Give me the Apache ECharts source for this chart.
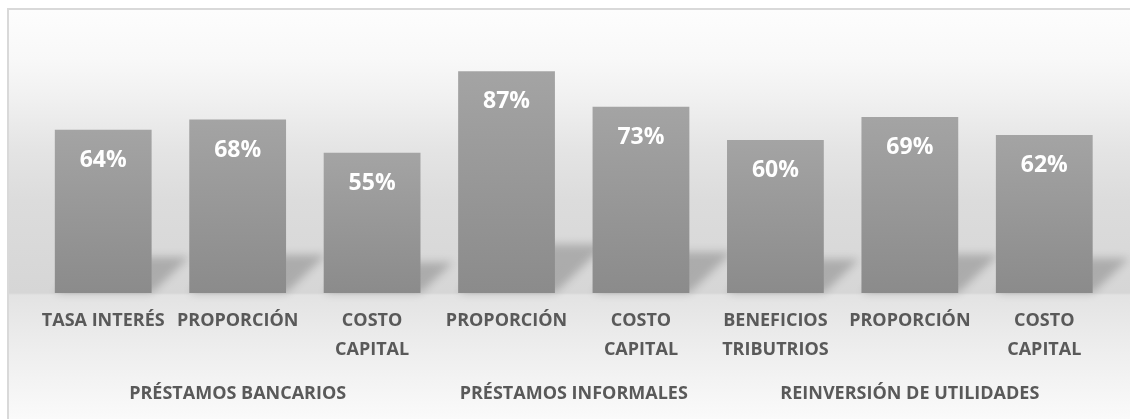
<!DOCTYPE html>
<html><head><meta charset="utf-8">
<script src="https://cdn.jsdelivr.net/npm/echarts@6/dist/echarts.min.js"></script>
<style>
html,body{margin:0;padding:0;width:1130px;height:419px;overflow:hidden;background:#fff;}
#bg{position:absolute;left:7px;top:8px;width:1130px;height:420px;border-left:2px solid #d9d9d9;border-top:2px solid #d9d9d9;
background:linear-gradient(to bottom,#fdfdfd 0px,#f8f8f8 50px,#f0f0f0 90px,#e4e4e4 140px,#dcdcdc 190px,#d6d6d6 283px,#e3e3e3 285px,#ececec 330px,#fafafa 409px);}
#chart{position:absolute;left:0;top:0;width:1130px;height:419px;}
</style></head>
<body>
<div id="bg"></div>
<div id="chart"></div>
<script>
const categories = ['TASA INTERÉS','PROPORCIÓN','COSTO\nCAPITAL','PROPORCIÓN','COSTO\nCAPITAL','BENEFICIOS\nTRIBUTRIOS','PROPORCIÓN','COSTO\nCAPITAL'];
const values = [64, 68, 55, 87, 73, 60, 69, 62];
const groups = ['PRÉSTAMOS BANCARIOS','PRÉSTAMOS INFORMALES','REINVERSIÓN DE UTILIDADES'];
const groupSpans = [3, 2, 3];

// half-step axis: 2*N+1 points, group label at the centre of its span
const groupAxisData = new Array(categories.length * 2 + 1).fill('');
let start = 0;
groups.forEach((g, i) => { groupAxisData[2 * start + groupSpans[i]] = g; start += groupSpans[i]; });

const chart = echarts.init(document.getElementById('chart'), null, {renderer: 'canvas'});
const font = "'Open Sans', sans-serif";
const BAR_RATIO = 0.72;

// perspective shadow behind each bar, derived from the bar's scaled geometry
function renderShadow(params, api) {
  const top = api.coord([api.value(0), api.value(1)]);
  const base = api.coord([api.value(0), 0]);
  const w = api.size([1, 0])[0] * BAR_RATIO;
  const xl = base[0] - w / 2, xr = base[0] + w / 2;
  const H = base[1] - top[1];
  const h = H * 0.22, s = h * 1.05;
  const off = 3000;
  return {
    type: 'polygon',
    shape: {points: [[xl - off, base[1]], [xr - off, base[1]], [xr + s - off, base[1] - h], [xl + s - off, base[1] - h]]},
    style: {fill: 'rgba(0,0,0,0.45)', shadowColor: 'rgba(0,0,0,0.45)', shadowBlur: 8, shadowOffsetX: off, shadowOffsetY: 0},
    silent: true
  };
}

chart.setOption({
  backgroundColor: 'transparent',
  animation: false,
  grid: {left: 36, right: 18.5, top: 38, bottom: 126, outerBoundsMode: 'none', containLabel: false},
  xAxis: [{
    type: 'category', data: categories,
    axisLine: {show: false}, axisTick: {show: false}, splitLine: {show: false},
    axisLabel: {interval: 0, margin: 13.5, fontSize: 18, fontWeight: 'bold', lineHeight: 29, color: '#595959', fontFamily: font, align: 'center'}
  }, {
    type: 'category', data: groupAxisData, boundaryGap: false, position: 'bottom',
    axisLine: {show: false}, axisTick: {show: false}, splitLine: {show: false},
    axisLabel: {interval: 0, margin: 86, fontSize: 18, fontWeight: 'bold', lineHeight: 29, color: '#595959', fontFamily: font}
  }],
  yAxis: {type: 'value', min: 0, max: 100, show: false},
  series: [{
    type: 'custom', xAxisIndex: 0, clip: false, silent: true, z: 1,
    data: values.map((v, i) => [i, v]),
    renderItem: renderShadow
  }, {
    type: 'bar', data: values, barWidth: (BAR_RATIO * 100) + '%', xAxisIndex: 0, z: 2,
    itemStyle: {color: new echarts.graphic.LinearGradient(0, 0, 0, 1, [
      {offset: 0, color: '#a4a4a4'}, {offset: 1, color: '#8b8b8b'}])},
    label: {show: true, position: 'insideTop', distance: 19, formatter: '{c}%', color: '#ffffff',
      fontSize: 23, fontWeight: 'bold', fontFamily: font}
  }]
});
</script>
</body></html>
